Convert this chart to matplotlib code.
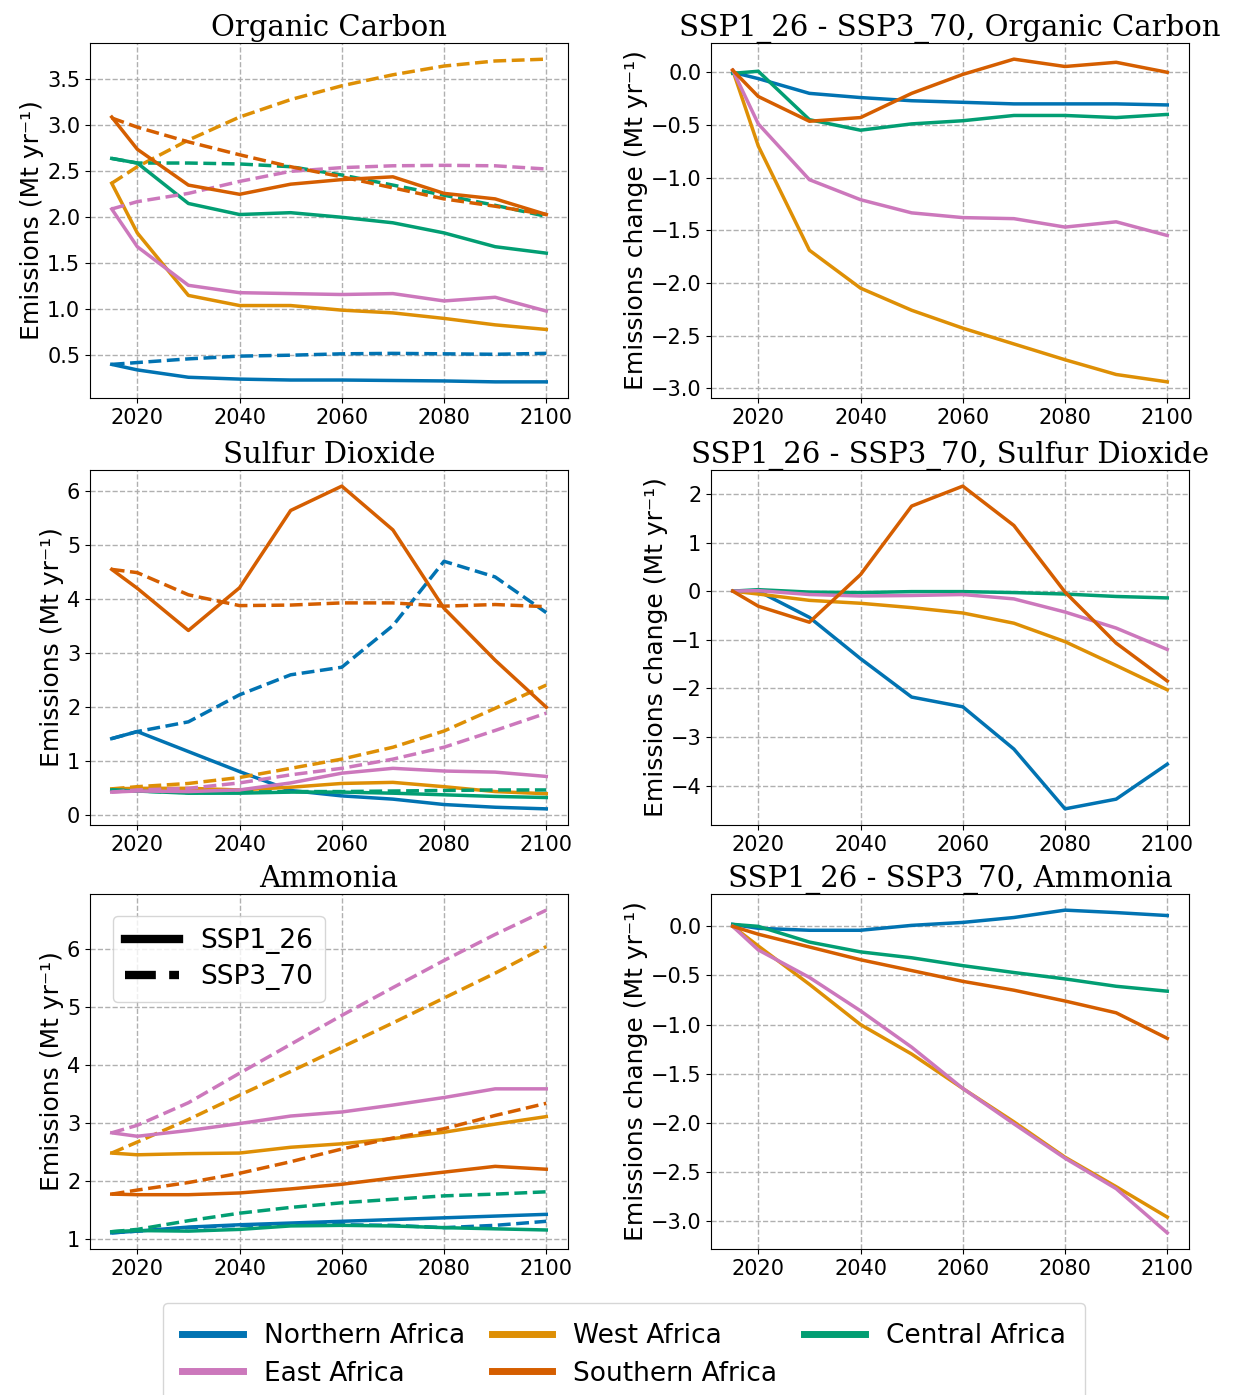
import matplotlib
matplotlib.use("Agg")
import matplotlib.pyplot as plt
from matplotlib.lines import Line2D

# ── Data ───────────────────────────────────────────────────────────────────────
years = [2015, 2020, 2030, 2040, 2050, 2060, 2070, 2080, 2090, 2100]

regions = ["Northern Africa", "West Africa", "Central Africa",
           "East Africa", "Southern Africa"]
colors = {
    "Northern Africa": "#0173B2",
    "West Africa":     "#DE8F05",
    "Central Africa":  "#029E73",
    "Southern Africa": "#D55E00",
    "East Africa":     "#CC78BC",
}

# Organic carbon, Mt/yr
oc_ssp1 = {
    "Northern Africa": [0.40, 0.34, 0.26, 0.24, 0.23, 0.23, 0.225, 0.22, 0.21, 0.21],
    "West Africa":     [2.37, 1.83, 1.15, 1.04, 1.04, 0.99, 0.96, 0.90, 0.83, 0.78],
    "Central Africa":  [2.64, 2.59, 2.15, 2.03, 2.05, 2.00, 1.94, 1.83, 1.68, 1.61],
    "East Africa":     [2.09, 1.68, 1.26, 1.18, 1.17, 1.16, 1.17, 1.09, 1.13, 0.98],
    "Southern Africa": [3.09, 2.74, 2.35, 2.25, 2.36, 2.41, 2.44, 2.26, 2.20, 2.03],
}
oc_ssp3 = {
    "Northern Africa": [0.40, 0.42, 0.46, 0.49, 0.50, 0.515, 0.52, 0.515, 0.51, 0.52],
    "West Africa":     [2.37, 2.55, 2.84, 3.09, 3.28, 3.43, 3.55, 3.645, 3.70, 3.72],
    "Central Africa":  [2.64, 2.59, 2.59, 2.58, 2.55, 2.46, 2.35, 2.24, 2.13, 2.01],
    "East Africa":     [2.09, 2.17, 2.26, 2.39, 2.50, 2.54, 2.56, 2.565, 2.56, 2.525],
    "Southern Africa": [3.08, 2.98, 2.82, 2.68, 2.55, 2.44, 2.32, 2.20, 2.12, 2.03],
}
oc_diff = {
    "Northern Africa": [0.0, -0.06, -0.20, -0.24, -0.27, -0.285, -0.30, -0.30, -0.30, -0.31],
    "West Africa":     [0.02, -0.70, -1.69, -2.05, -2.26, -2.43, -2.58, -2.73, -2.87, -2.94],
    "Central Africa":  [-0.01, 0.01, -0.45, -0.55, -0.49, -0.46, -0.41, -0.41, -0.43, -0.40],
    "East Africa":     [0.02, -0.49, -1.02, -1.21, -1.335, -1.38, -1.39, -1.47, -1.42, -1.55],
    "Southern Africa": [0.02, -0.23, -0.465, -0.43, -0.20, -0.02, 0.125, 0.055, 0.095, 0.0],
}

# Sulfur dioxide, Mt/yr
so2_ssp1 = {
    "Northern Africa": [1.42, 1.55, 1.18, 0.81, 0.46, 0.36, 0.30, 0.20, 0.15, 0.12],
    "West Africa":     [0.49, 0.50, 0.50, 0.47, 0.52, 0.59, 0.61, 0.53, 0.44, 0.40],
    "Central Africa":  [0.47, 0.45, 0.41, 0.41, 0.43, 0.43, 0.41, 0.38, 0.35, 0.33],
    "East Africa":     [0.43, 0.45, 0.44, 0.47, 0.60, 0.78, 0.87, 0.82, 0.80, 0.72],
    "Southern Africa": [4.55, 4.20, 3.42, 4.21, 5.64, 6.09, 5.28, 3.83, 2.87, 2.00],
}
so2_ssp3 = {
    "Northern Africa": [1.42, 1.55, 1.73, 2.23, 2.60, 2.74, 3.51, 4.70, 4.41, 3.75],
    "West Africa":     [0.49, 0.53, 0.59, 0.70, 0.87, 1.04, 1.26, 1.56, 1.98, 2.41],
    "Central Africa":  [0.47, 0.45, 0.42, 0.43, 0.44, 0.44, 0.45, 0.46, 0.47, 0.47],
    "East Africa":     [0.43, 0.47, 0.50, 0.60, 0.75, 0.87, 1.04, 1.26, 1.57, 1.89],
    "Southern Africa": [4.55, 4.49, 4.08, 3.88, 3.89, 3.93, 3.93, 3.87, 3.90, 3.86],
}
so2_diff = {
    "Northern Africa": [0.0, 0.0, -0.54, -1.39, -2.18, -2.38, -3.25, -4.48, -4.28, -3.56],
    "West Africa":     [0.0, -0.06, -0.19, -0.25, -0.34, -0.45, -0.66, -1.04, -1.53, -2.03],
    "Central Africa":  [0.0, 0.03, -0.02, -0.03, -0.01, -0.01, -0.03, -0.06, -0.11, -0.14],
    "East Africa":     [0.0, 0.01, -0.07, -0.10, -0.09, -0.07, -0.16, -0.43, -0.76, -1.20],
    "Southern Africa": [0.0, -0.31, -0.64, 0.34, 1.75, 2.16, 1.35, -0.02, -1.07, -1.85],
}

# Ammonia, Mt/yr
nh3_ssp1 = {
    "Northern Africa": [1.10, 1.13, 1.20, 1.24, 1.27, 1.30, 1.33, 1.36, 1.39, 1.42],
    "West Africa":     [2.48, 2.45, 2.47, 2.48, 2.58, 2.64, 2.73, 2.84, 2.98, 3.11],
    "Central Africa":  [1.12, 1.14, 1.13, 1.16, 1.22, 1.23, 1.22, 1.19, 1.17, 1.15],
    "East Africa":     [2.83, 2.77, 2.87, 2.99, 3.12, 3.19, 3.31, 3.44, 3.59, 3.59],
    "Southern Africa": [1.77, 1.76, 1.76, 1.79, 1.86, 1.94, 2.05, 2.15, 2.25, 2.20],
}
nh3_ssp3 = {
    "Northern Africa": [1.10, 1.13, 1.19, 1.23, 1.24, 1.24, 1.23, 1.19, 1.23, 1.30],
    "West Africa":     [2.48, 2.67, 3.06, 3.48, 3.89, 4.31, 4.73, 5.16, 5.59, 6.05],
    "Central Africa":  [1.12, 1.16, 1.31, 1.44, 1.54, 1.62, 1.68, 1.74, 1.77, 1.81],
    "East Africa":     [2.83, 2.96, 3.35, 3.86, 4.36, 4.86, 5.34, 5.81, 6.26, 6.68],
    "Southern Africa": [1.77, 1.84, 1.97, 2.13, 2.33, 2.55, 2.74, 2.90, 3.13, 3.34],
}
nh3_diff = {
    "Northern Africa": [0.02, -0.02, -0.04, -0.04, 0.01, 0.04, 0.09, 0.165, 0.14, 0.11],
    "West Africa":     [0.0, -0.20, -0.59, -1.00, -1.30, -1.65, -1.99, -2.35, -2.65, -2.96],
    "Central Africa":  [0.02, 0.0, -0.16, -0.26, -0.32, -0.40, -0.47, -0.535, -0.61, -0.66],
    "East Africa":     [0.0, -0.24, -0.52, -0.86, -1.23, -1.65, -2.01, -2.36, -2.67, -3.12],
    "Southern Africa": [0.0, -0.08, -0.21, -0.34, -0.45, -0.56, -0.65, -0.76, -0.88, -1.14],
}

species = [
    ("Organic Carbon", oc_ssp1, oc_ssp3, oc_diff),
    ("Sulfur Dioxide", so2_ssp1, so2_ssp3, so2_diff),
    ("Ammonia",        nh3_ssp1, nh3_ssp3, nh3_diff),
]

# ── Figure ─────────────────────────────────────────────────────────────────────
fig = plt.figure(figsize=(12.33, 13.95), dpi=100)

W, H = 1233.0, 1395.0
row_tops = [43, 470, 894]
ax_h = 355
col_lefts = [90, 711]
ax_w = 478

LW = 2.5
TITLE_FS = 21
LABEL_FS = 18
TICK_FS = 15
unit = "(Mt yr\u207b\u00b9)"


def _style(ax, title, ylabel):
    ax.set_title(title, fontsize=TITLE_FS, family="DejaVu Serif", pad=5)
    ax.set_ylabel(ylabel, fontsize=LABEL_FS, labelpad=2)
    ax.tick_params(labelsize=TICK_FS)
    ax.grid(True, linestyle="--", color="#b0b0b0", linewidth=1.0)
    ax.set_xticks([2020, 2040, 2060, 2080, 2100])


for r, (name, ssp1, ssp3, diff) in enumerate(species):
    bottom = 1 - (row_tops[r] + ax_h) / H
    ax_l = fig.add_axes([col_lefts[0] / W, bottom, ax_w / W, ax_h / H])
    ax_r = fig.add_axes([col_lefts[1] / W, bottom, ax_w / W, ax_h / H])

    for reg in regions:
        ax_l.plot(years, ssp1[reg], color=colors[reg], lw=LW, ls="-")
        ax_l.plot(years, ssp3[reg], color=colors[reg], lw=LW, ls="--")
        ax_r.plot(years, diff[reg], color=colors[reg], lw=LW)

    _style(ax_l, name, "Emissions " + unit)
    _style(ax_r, "SSP1_26 - SSP3_70, " + name, "Emissions change " + unit)

    if name == "Ammonia":
        scen_handles = [
            Line2D([], [], color="black", lw=6, ls="-"),
            Line2D([], [], color="black", lw=6, ls="--"),
        ]
        ax_l.legend(scen_handles, ["SSP1_26", "SSP3_70"], loc="upper left",
                    fontsize=19, handlelength=2.05, borderpad=0.45,
                    labelspacing=0.4, bbox_to_anchor=(0.02, 0.975))

# region legend at the bottom (column-wise fill, 3 columns)
leg_order = ["Northern Africa", "East Africa", "West Africa",
             "Southern Africa", "Central Africa"]
handles = [Line2D([], [], color=colors[k], lw=5) for k in leg_order]
fig.legend(handles, leg_order, loc="upper center", ncol=3, fontsize=19,
           bbox_to_anchor=(0.506, 1 - 1303 / H), borderaxespad=0,
           handlelength=2.3, columnspacing=1.0, borderpad=0.75,
           labelspacing=0.45)

fig.savefig("out.png", dpi=100)
